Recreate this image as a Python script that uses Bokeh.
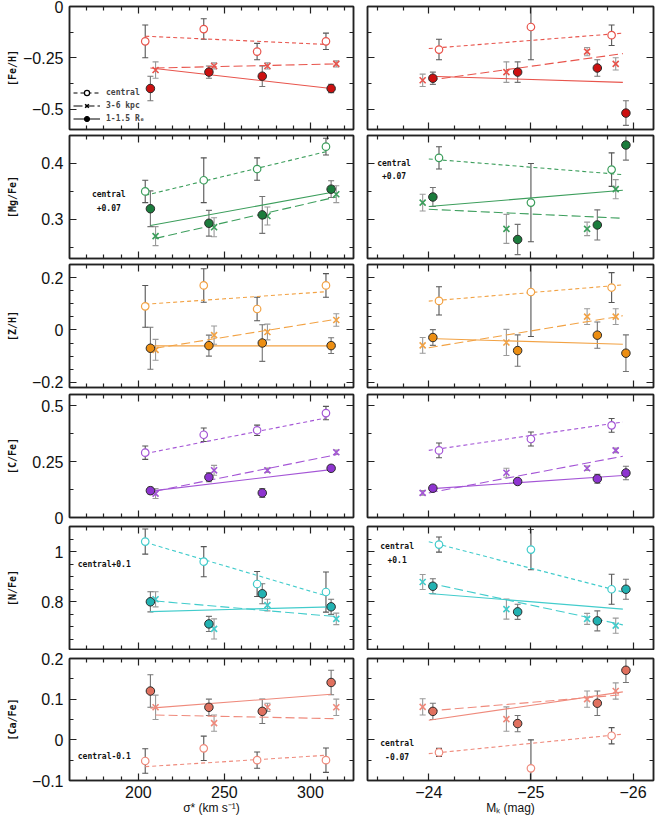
import numpy as np
from bokeh.plotting import figure
from bokeh.models import (Range1d, LinearAxis, FixedTicker, Label, Legend, LegendItem,
                          CustomJSTickFormatter)
from bokeh.layouts import gridplot
from bokeh.embed import file_html
from bokeh.resources import INLINE

# ---------------- x positions ----------------
sigma_central = [204, 238, 269, 309]
sigma_outer = [210, 244, 275, 315]      # 3-6 kpc
sigma_re = [207, 241, 272, 312]         # 1-1.5 Re
mk_central = [-24.10, -25.00, -25.79]
mk_outer = [-23.94, -24.76, -25.55, -25.83]
mk_re = [-24.04, -24.87, -25.65, -25.93]
mk_fit_span = [-24.0, -25.9]

# ------------- series: (values, errors, fit-line end values) -------------
feh_sig_central = ([-0.17, -0.11, -0.22, -0.17], [0.08, 0.05, 0.04, 0.04], [-0.145, -0.185])
feh_sig_outer = ([-0.31, -0.29, -0.29, -0.28], [0.04, 0.015, 0.015, 0.015], [-0.30, -0.28])
feh_sig_re = ([-0.40, -0.32, -0.34, -0.40], [0.06, 0.03, 0.05, 0.02], [-0.30, -0.40])
feh_mk_central = ([-0.21, -0.10, -0.14], [0.05, 0.16, 0.05], [-0.205, -0.13])
feh_mk_outer = ([-0.36, -0.32, -0.22, -0.28], [0.03, 0.05, 0.02, 0.03], [-0.36, -0.23])
feh_mk_re = ([-0.35, -0.32, -0.30, -0.52], [0.03, 0.05, 0.04, 0.06], [-0.34, -0.37])

mgfe_sig_central = ([0.35, 0.37, 0.39, 0.43], [0.02, 0.04, 0.02, 0.015], [0.343, 0.421])
mgfe_sig_outer = ([0.27, 0.286, 0.306, 0.345], [0.017, 0.017, 0.016, 0.015], [0.266, 0.34])
mgfe_sig_re = ([0.319, 0.293, 0.308, 0.354], [0.032, 0.023, 0.033, 0.015], [0.289, 0.348])
mgfe_mk_central = ([0.41, 0.33, 0.389], [0.02, 0.07, 0.03], [0.408, 0.380])
mgfe_mk_outer = ([0.33, 0.283, 0.283, 0.354], [0.015, 0.026, 0.012, 0.017], [0.318, 0.302])
mgfe_mk_re = ([0.34, 0.264, 0.29, 0.433], [0.017, 0.027, 0.027, 0.027], [0.323, 0.352])

zh_sig_central = ([0.09, 0.17, 0.08, 0.17], [0.08, 0.064, 0.045, 0.045], [0.098, 0.146])
zh_sig_outer = ([-0.076, -0.02, -0.008, 0.038], [0.04, 0.035, 0.03, 0.024], [-0.07, 0.041])
zh_sig_re = ([-0.07, -0.06, -0.05, -0.06], [0.08, 0.04, 0.07, 0.03], [-0.061, -0.061])
zh_mk_central = ([0.111, 0.145, 0.162], [0.054, 0.17, 0.057], [0.11, 0.172])
zh_mk_outer = ([-0.059, -0.048, 0.051, 0.051], [0.03, 0.05, 0.03, 0.03], [-0.068, 0.054])
zh_mk_re = ([-0.029, -0.079, -0.02, -0.089], [0.03, 0.06, 0.05, 0.07], [-0.033, -0.055])

cfe_sig_central = ([0.29, 0.37, 0.39, 0.467], [0.03, 0.03, 0.023, 0.03], [0.286, 0.445])
cfe_sig_outer = ([0.107, 0.211, 0.211, 0.292], [0.022, 0.022, 0.01, 0.01], [0.118, 0.281])
cfe_sig_re = ([0.12, 0.18, 0.11, 0.22], [0.015, 0.02, 0.02, 0.01], [0.118, 0.214])
cfe_mk_central = ([0.30, 0.351, 0.412], [0.033, 0.031, 0.031], [0.30, 0.427])
cfe_mk_outer = ([0.11, 0.20, 0.22, 0.30], [0.01, 0.02, 0.01, 0.01], [0.11, 0.274])
cfe_mk_re = ([0.131, 0.161, 0.173, 0.199], [0.01, 0.01, 0.02, 0.03], [0.128, 0.188])

nfe_sig_central = ([1.04, 0.96, 0.871, 0.839], [0.05, 0.06, 0.05, 0.08], [1.037, 0.824])
nfe_sig_outer = ([0.81, 0.692, 0.787, 0.732], [0.03, 0.04, 0.023, 0.023], [0.803, 0.741])
nfe_sig_re = ([0.80, 0.712, 0.832, 0.78], [0.04, 0.03, 0.04, 0.03], [0.761, 0.78])
nfe_mk_central = ([1.028, 1.008, 0.85], [0.03, 0.08, 0.06], [1.039, 0.839])
nfe_mk_outer = ([0.879, 0.771, 0.732, 0.705], [0.03, 0.04, 0.022, 0.03], [0.875, 0.708])
nfe_mk_re = ([0.862, 0.76, 0.724, 0.85], [0.03, 0.03, 0.04, 0.04], [0.833, 0.771])

cafe_sig_central = ([-0.052, -0.021, -0.05, -0.05], [0.03, 0.03, 0.02, 0.03], [-0.066, -0.038])
cafe_sig_outer = ([0.08, 0.041, 0.08, 0.08], [0.03, 0.02, 0.01, 0.02], [0.061, 0.052])
cafe_sig_re = ([0.12, 0.08, 0.07, 0.141], [0.04, 0.02, 0.03, 0.03], [0.078, 0.112])
cafe_mk_central = ([-0.031, -0.07, 0.01], [0.01, 0.07, 0.02], [-0.034, 0.014])
cafe_mk_outer = ([0.081, 0.051, 0.10, 0.12], [0.02, 0.03, 0.02, 0.02], [0.071, 0.111])
cafe_mk_re = ([0.07, 0.04, 0.09, 0.171], [0.02, 0.02, 0.03, 0.03], [0.048, 0.118])

# ---------------- panel settings ----------------
element_labels = ["[Fe/H]", "[Mg/Fe]", "[Z/H]", "[C/Fe]", "[N/Fe]", "[Ca/Fe]"]
y_lims = [(-0.6, 0.0), (0.23, 0.45), (-0.22, 0.25), (0.0, 0.55), (0.61, 1.1), (-0.1, 0.2)]
y_major = [[-0.5, -0.25, 0.0], [0.3, 0.4], [-0.2, 0.0, 0.2], [0.0, 0.25, 0.5], [0.8, 1.0],
           [-0.1, 0.0, 0.1, 0.2]]
y_minor = [[-0.375, -0.125], [0.25, 0.35, 0.45], [-0.15, -0.1, -0.05, 0.05, 0.1, 0.15],
           [0.125, 0.375], [0.65, 0.7, 0.75, 0.85, 0.9, 0.95, 1.05], [-0.05, 0.05, 0.15]]
y_label_standoff = [2, 20, 11, 11, 20, 11]
line_colors = ["#e8544c", "#3c9e5c", "#f2a244", "#a455d6", "#42cccc", "#ef8a7c"]
fill_colors = ["#cc1010", "#1b7c3c", "#ec8e12", "#8e34d0", "#22b2b2", "#e0705e"]

sig_series = [
    (feh_sig_central, feh_sig_outer, feh_sig_re),
    (mgfe_sig_central, mgfe_sig_outer, mgfe_sig_re),
    (zh_sig_central, zh_sig_outer, zh_sig_re),
    (cfe_sig_central, cfe_sig_outer, cfe_sig_re),
    (nfe_sig_central, nfe_sig_outer, nfe_sig_re),
    (cafe_sig_central, cafe_sig_outer, cafe_sig_re),
]
mk_series = [
    (feh_mk_central, feh_mk_outer, feh_mk_re),
    (mgfe_mk_central, mgfe_mk_outer, mgfe_mk_re),
    (zh_mk_central, zh_mk_outer, zh_mk_re),
    (cfe_mk_central, cfe_mk_outer, cfe_mk_re),
    (nfe_mk_central, nfe_mk_outer, nfe_mk_re),
    (cafe_mk_central, cafe_mk_outer, cafe_mk_re),
]

notes = [
    (1, 0, ["central", "+0.07"], 182.8, [0.345, 0.322], "center"),
    (1, 1, ["central", "+0.07"], -23.66, [0.400, 0.379], "center"),
    (4, 0, ["central+0.1"], 164.8, [0.95], "left"),
    (4, 1, ["central", "+0.1"], -23.69, [1.021, 0.970], "center"),
    (5, 0, ["central-0.1"], 164.8, [-0.041], "left"),
    (5, 1, ["central", "-0.07"], -23.69, [-0.008, -0.041], "center"),
]

# (top border, bottom border, total height) per row
row_geom = [(6, 3, 132), (3, 3, 129), (3, 4, 130), (3, 8, 134), (1, 1, 125), (8, 36, 167)]

FRAME = "#222222"
fmt = CustomJSTickFormatter(code="""
const s = Math.abs(tick).toString();
return tick < 0 ? '\u2212' + s : s;
""")


def style_axis(ax, major, minor, show_labels):
    ax.ticker = FixedTicker(ticks=major, minor_ticks=minor)
    ax.major_tick_in = 7
    ax.major_tick_out = 0
    ax.minor_tick_in = 4
    ax.minor_tick_out = 0
    ax.axis_line_color = FRAME
    ax.axis_line_width = 1.5
    ax.major_tick_line_color = FRAME
    ax.major_tick_line_width = 1.2
    ax.minor_tick_line_color = FRAME
    ax.minor_tick_line_width = 1.2
    ax.axis_label = None
    if show_labels:
        ax.formatter = fmt
        ax.major_label_text_font = "Liberation Sans"
        ax.major_label_text_font_size = "16px"
        ax.major_label_text_color = "#111111"
        ax.major_label_standoff = 6
    else:
        ax.major_label_text_font_size = "0px"
        ax.major_label_text_color = None
        ax.major_label_standoff = 0


def draw_panel(p, series, xs_list, fit_xs_list, lc, fc):
    kinds = ["central", "outer", "re"]
    err_cols = {"central": "#555555", "outer": "#9a9a9a", "re": "#737373"}
    dashes = {"central": "4 3", "outer": "9 4", "re": "solid"}
    # error bars
    for kind, ser, xs in zip(kinds, series, xs_list):
        ys, es, _ = ser
        lo = [y - e for y, e in zip(ys, es)]
        hi = [y + e for y, e in zip(ys, es)]
        ec = err_cols[kind]
        p.segment(x0=xs, y0=lo, x1=xs, y1=hi, line_color=ec, line_width=1.1)
        p.scatter(x=xs, y=hi, marker="dash", size=6, line_color=ec, line_width=1.1)
        p.scatter(x=xs, y=lo, marker="dash", size=6, line_color=ec, line_width=1.1)
    # fit lines
    for kind, ser, fx in zip(kinds, series, fit_xs_list):
        p.line(x=fx, y=ser[2], line_color=lc, line_width=1.1, line_dash=dashes[kind])
    # markers
    c, o, r = series
    xc, xo, xr = xs_list
    p.scatter(x=xc, y=c[0], marker="circle", size=7.5, line_color=lc, fill_color="white",
              line_width=1.2)
    p.scatter(x=xo, y=o[0], marker="x", size=8.5, line_color=lc, line_width=1.6)
    p.scatter(x=xr, y=r[0], marker="circle", size=8.5, fill_color=fc, line_color="#2a2a2a",
              line_width=1)


rows = []
for i in range(6):
    bt, bb, h = row_geom[i]
    row_figs = []
    for col in range(2):
        if col == 0:
            w, bl, br = 360, 69, 7
            xr = Range1d(160, 325)
            xmaj = [200, 250, 300]
            xmin = [v for v in range(170, 325, 10) if v not in xmaj]
        else:
            w, bl, br = 297, 7, 4
            xr = Range1d(-23.4, -26.2)
            xmaj = [-24.0, -25.0, -26.0]
            xmin = [-23.5, -23.75, -24.25, -24.5, -24.75, -25.25, -25.5, -25.75]
        p = figure(width=w, height=h, x_range=xr, y_range=Range1d(*y_lims[i]),
                   output_backend="svg", toolbar_location=None,
                   min_border_left=bl, min_border_right=br,
                   min_border_top=bt, min_border_bottom=bb)
        p.xgrid.visible = False
        p.ygrid.visible = False
        p.outline_line_color = FRAME
        p.outline_line_width = 1.5
        p.background_fill_color = "white"
        p.border_fill_color = "white"

        xax = p.xaxis[0]
        style_axis(xax, xmaj, xmin, show_labels=(i == 5))
        yax = p.yaxis[0]
        style_axis(yax, y_major[i], y_minor[i], show_labels=(col == 0))
        top_ax = LinearAxis()
        style_axis(top_ax, xmaj, xmin, False)
        p.add_layout(top_ax, "above")
        right_ax = LinearAxis()
        style_axis(right_ax, y_major[i], y_minor[i], False)
        p.add_layout(right_ax, "right")

        if col == 0:
            yax.axis_label = element_labels[i]
            yax.axis_label_text_font = "DejaVu Sans Mono"
            yax.axis_label_text_font_style = "bold"
            yax.axis_label_text_font_size = "10px"
            yax.axis_label_text_color = "#111111"
            yax.axis_label_standoff = y_label_standoff[i]
            xs_list = [sigma_central, sigma_outer, sigma_re]
            fit_xs = [[xs[0], xs[-1]] for xs in xs_list]
            draw_panel(p, sig_series[i], xs_list, fit_xs, line_colors[i], fill_colors[i])
        else:
            xs_list = [mk_central, mk_outer, mk_re]
            fit_xs = [mk_fit_span] * 3
            draw_panel(p, mk_series[i], xs_list, fit_xs, line_colors[i], fill_colors[i])

        if i == 5:
            xax.axis_label = "\u03c3* (km s\u207b\u00b9)" if col == 0 else "M\u2096 (mag)"
            xax.axis_label_text_font = "Liberation Sans"
            xax.axis_label_text_font_style = "normal"
            xax.axis_label_text_font_size = "12px"
            xax.axis_label_text_color = "#111111"
            xax.axis_label_standoff = 0
            xax.major_label_standoff = 5

        for (pi, pc, texts, nx, nys, al) in notes:
            if pi == i and pc == col:
                for t, ny in zip(texts, nys):
                    p.add_layout(Label(x=nx, y=ny, text=t, text_align=al,
                                       text_baseline="middle", text_font="DejaVu Sans Mono",
                                       text_font_style="bold", text_font_size="8px",
                                       text_color="#111111"))

        if i == 0 and col == 0:
            nan = [np.nan]
            l1 = p.line(x=nan, y=nan, line_color="black", line_dash="4 3", line_width=1)
            s1 = p.scatter(x=nan, y=nan, marker="circle", size=7, line_color="black",
                           fill_color="white", line_width=1.2)
            l2 = p.line(x=nan, y=nan, line_color="black", line_dash="9 3", line_width=1)
            s2 = p.scatter(x=nan, y=nan, marker="x", size=7, line_color="black",
                           line_width=1.5)
            l3 = p.line(x=nan, y=nan, line_color="black", line_width=1)
            s3 = p.scatter(x=nan, y=nan, marker="circle", size=8, line_color="black",
                           fill_color="black")
            leg = Legend(items=[LegendItem(label="central", renderers=[l1, s1]),
                                LegendItem(label="3-6 kpc", renderers=[l2, s2]),
                                LegendItem(label="1-1.5 R\u2091", renderers=[l3, s3])],
                         location="bottom_left", glyph_width=27, glyph_height=13,
                         label_height=13, label_standoff=6, spacing=0, padding=2, margin=2,
                         label_text_font="DejaVu Sans Mono", label_text_font_style="bold",
                         label_text_font_size="8px", background_fill_alpha=0,
                         border_line_alpha=0)
            p.add_layout(leg)

        row_figs.append(p)
    rows.append(row_figs)

grid = gridplot(rows, toolbar_location=None)
open("out.html", "w").write(file_html(grid, INLINE))
